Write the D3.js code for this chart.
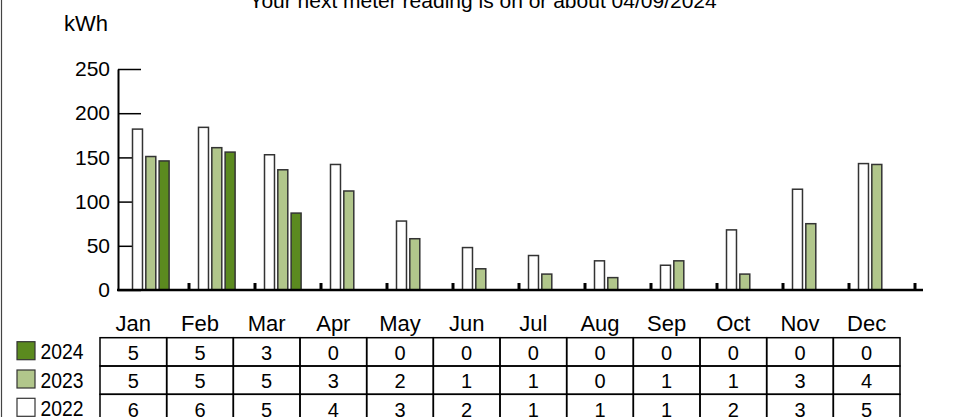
<!DOCTYPE html>
<html>
<head>
<meta charset="utf-8">
<script src="https://cdn.jsdelivr.net/npm/d3@7"></script>
<style>
  body { margin: 0; background: #fff; }
  svg { display: block; font-family: "Liberation Sans", Arial, sans-serif; }
</style>
</head>
<body>
<svg id="chart" width="955" height="417"></svg>
<script>
// data
const months = ["Jan", "Feb", "Mar", "Apr", "May", "Jun", "Jul", "Aug", "Sep", "Oct", "Nov", "Dec"];
const years = ["2022", "2023", "2024"];
const kwh2022 = [182, 184, 153, 142, 78, 48, 39, 33, 28, 68, 114, 143];
const kwh2023 = [151, 161, 136, 112, 58, 24, 18, 14, 33, 18, 75, 142];
const kwh2024 = [146, 156, 87];
const table2024 = [5, 5, 3, 0, 0, 0, 0, 0, 0, 0, 0, 0];
const table2023 = [5, 5, 5, 3, 2, 1, 1, 0, 1, 1, 3, 4];
const table2022 = [6, 6, 5, 4, 3, 2, 1, 1, 1, 2, 3, 5];
const yTicks = [0, 50, 100, 150, 200, 250];
const title = "Your next meter reading is on or about 04/09/2024";

const color = {
  "2022": "#ffffff",
  "2023": "#b1c68b",
  "2024": "#5b8a1f"
};

const svg = d3.select("#chart");

// left frame edge
svg.append("line")
  .attr("x1", 1.5).attr("x2", 1.5)
  .attr("y1", 0).attr("y2", 417)
  .attr("stroke", "#444").attr("stroke-width", 1.2);

// title + unit
svg.append("text")
  .attr("x", 483).attr("y", 8)
  .attr("text-anchor", "middle")
  .attr("font-size", 21)
  .text(title);

svg.append("text")
  .attr("x", 64).attr("y", 31)
  .attr("font-size", 22)
  .text("kWh");

/*
 * scales
 */
const y = d3.scaleLinear().domain([0, 250]).range([290, 69]);
const x = d3.scaleBand().domain(months).range([123, 915]);
const xSub = d3.scaleBand().domain(years).range([9.5, 46.1]).paddingInner(0.25);
const col = d3.scaleBand().domain(months).range([100, 900]);

/*
 * y axis
 */
const yAxis = svg.append("g")
  .attr("transform", "translate(118,0)")
  .call(d3.axisLeft(y).tickValues(yTicks).tickSize(-23).tickSizeOuter(0).tickPadding(8));

yAxis.select(".domain").attr("stroke", "#000").attr("stroke-width", 2);
yAxis.selectAll(".tick line").attr("stroke", "#000").attr("stroke-width", 1.5);
yAxis.selectAll(".tick text")
  .attr("font-size", 21)
  .attr("font-family", "Liberation Sans, Arial, sans-serif")
  .attr("fill", "#000");

/*
 * bars
 */
const series = [
  { year: "2022", values: kwh2022 },
  { year: "2023", values: kwh2023 },
  { year: "2024", values: kwh2024 }
];

const barData = [];
series.forEach(s => {
  s.values.forEach((v, i) => barData.push({ year: s.year, month: months[i], value: v }));
});

svg.append("g")
  .selectAll("rect")
  .data(barData)
  .enter()
  .append("rect")
  .attr("x", d => x(d.month) + xSub(d.year))
  .attr("y", d => y(d.value))
  .attr("width", xSub.bandwidth())
  .attr("height", d => y(0) - y(d.value))
  .attr("fill", d => color[d.year])
  .attr("stroke", "#333")
  .attr("stroke-width", 1.5);

/*
 * x axis: baseline + month separators
 */
svg.append("line")
  .attr("x1", 117).attr("x2", 923)
  .attr("y1", y(0)).attr("y2", y(0))
  .attr("stroke", "#000").attr("stroke-width", 2.5);

svg.append("g")
  .selectAll("line")
  .data(months)
  .enter()
  .append("line")
  .attr("x1", d => x(d) + x.bandwidth())
  .attr("x2", d => x(d) + x.bandwidth())
  .attr("y1", y(0) - 7)
  .attr("y2", y(0))
  .attr("stroke", "#000")
  .attr("stroke-width", 3);

/*
 * table
 */
svg.append("g")
  .selectAll("text")
  .data(months)
  .enter()
  .append("text")
  .attr("x", d => col(d) + col.bandwidth() / 2)
  .attr("y", 331)
  .attr("text-anchor", "middle")
  .attr("font-size", 22)
  .text(d => d);

const rows = [
  { year: "2024", values: table2024 },
  { year: "2023", values: table2023 },
  { year: "2022", values: table2022 }
];
const rowTop = 337.7;
const rowH = 28.3;

const row = svg.append("g")
  .selectAll("g")
  .data(rows)
  .enter()
  .append("g")
  .attr("transform", (d, i) => `translate(0,${rowTop + i * rowH})`);

row.selectAll("rect")
  .data(d => d.values.map((v, i) => ({ month: months[i], value: v })))
  .enter()
  .append("rect")
  .attr("x", d => col(d.month))
  .attr("y", 0)
  .attr("width", col.bandwidth())
  .attr("height", rowH)
  .attr("fill", "none")
  .attr("stroke", "#000")
  .attr("stroke-width", 1.5);

row.selectAll("text.cell")
  .data(d => d.values.map((v, i) => ({ month: months[i], value: v })))
  .enter()
  .append("text")
  .attr("class", "cell")
  .attr("x", d => col(d.month) + col.bandwidth() / 2)
  .attr("y", 22.3)
  .attr("text-anchor", "middle")
  .attr("font-size", 20)
  .text(d => d.value);

// legend swatches + labels
row.append("rect")
  .attr("x", 17)
  .attr("y", 4)
  .attr("width", 18)
  .attr("height", 18)
  .attr("fill", d => color[d.year])
  .attr("stroke", "#333")
  .attr("stroke-width", 1.2);

row.append("text")
  .attr("x", 40.5)
  .attr("y", 21.6)
  .attr("font-size", 22)
  .attr("textLength", 43)
  .attr("lengthAdjust", "spacingAndGlyphs")
  .text(d => d.year);
</script>
</body>
</html>
